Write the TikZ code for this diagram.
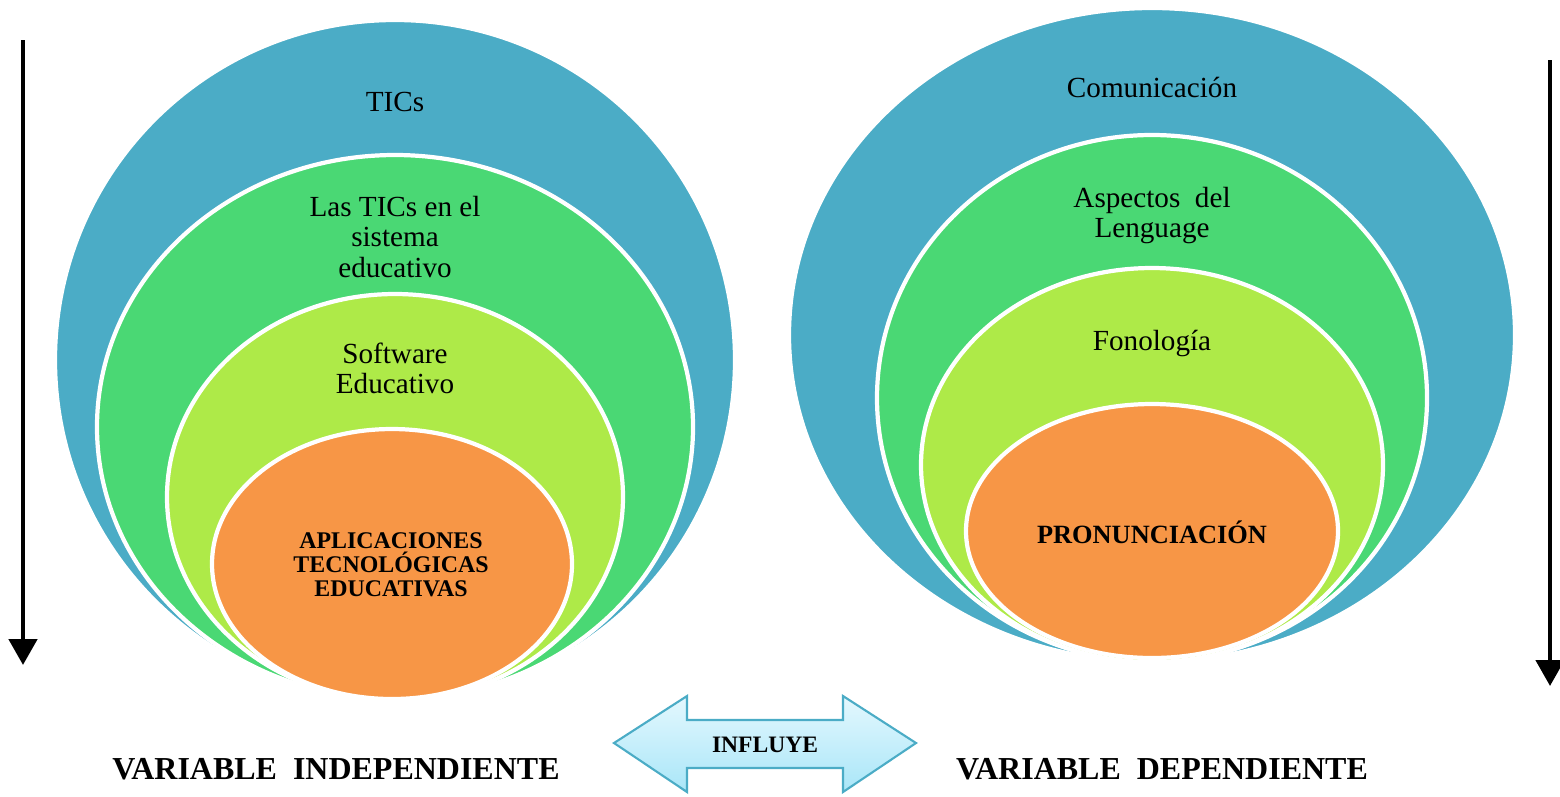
\documentclass[tikz,border=0pt]{standalone}
\usepackage{fontspec}
\setmainfont{Liberation Serif}
\usepackage{tikz}
\usetikzlibrary{shapes.geometric, arrows.meta}
\definecolor{tblue}{HTML}{4BACC6}
\definecolor{tgreen}{HTML}{4AD874}
\definecolor{tlime}{HTML}{AEEA48}
\definecolor{torange}{HTML}{F79646}
\definecolor{arrtop}{HTML}{E4F8FE}
\definecolor{arrbot}{HTML}{A9E6F8}
\tikzset{
  ring/.style={ellipse, draw=white, line width=1.2pt, inner sep=0pt},
  lbl/.style={font=\fontsize{8.3}{8.54}\selectfont, align=center},
  core/.style={font=\fontsize{6.8}{6.8}\selectfont\bfseries, align=center},
  varlbl/.style={font=\fontsize{9.1}{9.2}\selectfont\bfseries},
  down/.style={line width=1.35pt, -{Triangle[width=0.28cm,length=0.26cm]}}
}

\begin{document}
\begin{tikzpicture}
    \useasboundingbox (0,0) rectangle (15.6,-7.96);
    % side arrows
    \coordinate (ltop) at (0.23,-0.40);
    \coordinate (lbot) at (0.23,-6.65);
    \coordinate (rtop) at (15.50,-0.60);
    \coordinate (rbot) at (15.50,-6.86);
    \draw[down] (ltop) -- (lbot);
    \draw[down] (rtop) -- (rbot);

    % independent variable
    \node[ring, fill=tblue, minimum width=6.80cm, minimum height=6.80cm] (tics) at (3.95,-3.60) {};
    \node[ring, fill=tgreen, minimum width=5.96cm, minimum height=5.44cm] (sisedu) at (3.95,-4.27) {};
    \node[ring, fill=tlime, minimum width=4.56cm, minimum height=4.06cm] (softw) at (3.95,-4.97) {};
    \node[ring, fill=torange, minimum width=3.60cm, minimum height=2.70cm] (aplic) at (3.92,-5.64) {};
    \node[lbl] (ticsl) at (3.95,-1.02) {TICs};
    \node[lbl] (sisedul) at (3.95,-2.37) {Las TICs en el\\sistema\\educativo};
    \node[lbl] (softwl) at (3.95,-3.68) {Software\\Educativo};
    \node[core] (aplicl) at (3.91,-5.65) {APLICACIONES\\TECNOLÓGICAS\\EDUCATIVAS};

    % dependent variable
    \node[ring, fill=tblue, minimum width=7.26cm, minimum height=6.54cm] (comun) at (11.52,-3.35) {};
    \node[ring, fill=tgreen, minimum width=5.50cm, minimum height=5.26cm] (aspect) at (11.52,-3.98) {};
    \node[ring, fill=tlime, minimum width=4.62cm, minimum height=3.94cm] (fonol) at (11.52,-4.65) {};
    \node[ring, fill=torange, minimum width=3.72cm, minimum height=2.54cm] (pronun) at (11.52,-5.31) {};
    \node[lbl] (comunl) at (11.52,-0.87) {Comunicación};
    \node[lbl] (aspectl) at (11.52,-2.16) {Aspectos\ \ del\\Lenguage};
    \node[lbl] (fonoll) at (11.52,-3.43) {Fonología};
    \node[core, font=\fontsize{7.5}{7.5}\selectfont\bfseries] (pronunl) at (11.52,-5.32) {PRONUNCIACIÓN};

    % influye
    \coordinate (ltip) at (6.14,-7.43);
    \coordinate (rtip) at (9.16,-7.43);
    \draw[draw=tblue, line width=0.6pt, top color=arrtop, bottom color=arrbot]
      (ltip) -- (6.87,-6.96) -- (6.87,-7.20) -- (8.43,-7.20) -- (8.43,-6.96)
      -- (rtip) -- (8.43,-7.92) -- (8.43,-7.68) -- (6.87,-7.68) -- (6.87,-7.92) -- cycle;
    \node[core, font=\fontsize{6.7}{6.7}\selectfont\bfseries] (influye) at (7.65,-7.45) {INFLUYE};

    \node[varlbl] (vindep) at (3.36,-7.69) {VARIABLE\ \ INDEPENDIENTE};
    \node[varlbl] (vdep) at (11.62,-7.69) {VARIABLE\ \ DEPENDIENTE};
\end{tikzpicture}
\end{document}
